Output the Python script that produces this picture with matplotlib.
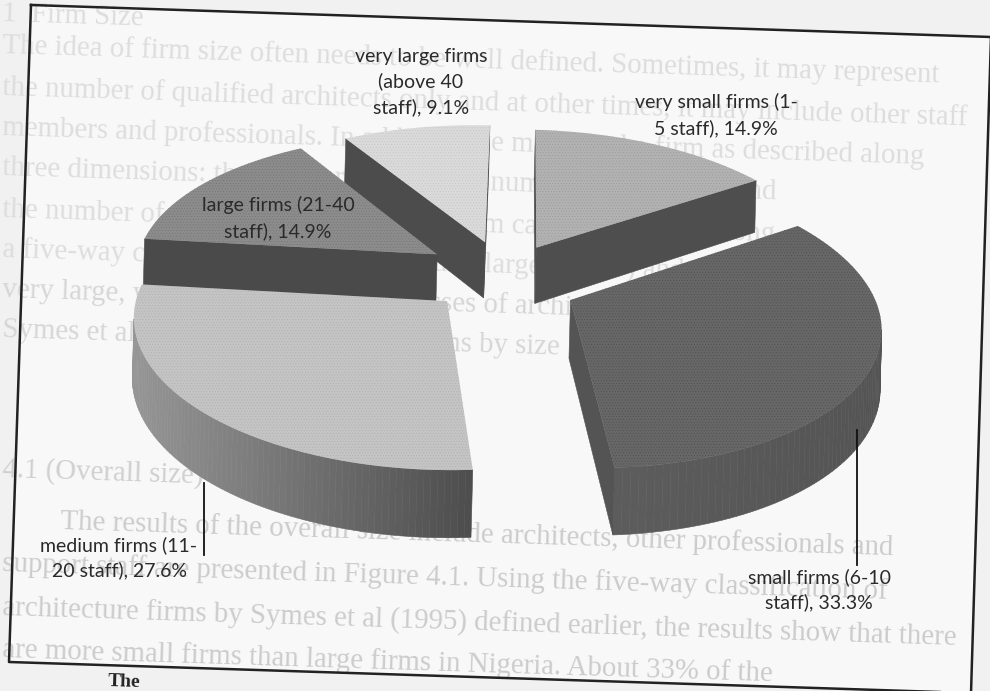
import numpy as np
import matplotlib
matplotlib.use("Agg")
import matplotlib.pyplot as plt

# chart data, clockwise from 12 o'clock
categories = ["very small firms (1-\n5 staff)", "small firms (6-10\nstaff)", "medium firms (11-\n20 staff)",
              "large firms (21-40\nstaff)", "very large firms\n(above 40\nstaff)"]
shares = [14.9, 33.3, 27.6, 14.9, 9.1]

# explosion of each slice on the pie plane
explode_x = [0.12, 0.23, -0.17, -0.215, -0.055]
explode_y = [0.30, -0.07, -0.10, 0.23, 0.33]

top_colors = ["#b2b2b2", "#676767", "#c4c4c4", "#8c8c8c", "#dadada"]
grain_colors = ["#999999", "#505050", "#b0b0b0", "#747474", "#c4c4c4"]
wall_light = ["#555555", "#5e5e5e", "#969696", "#555555", "#5c5c5c"]
wall_dark = ["#4e4e4e", "#545454", "#4e4e4e", "#4a4a4a", "#4c4c4c"]
draw_order = [4, 3, 0, 1, 2]

label_x = [716, 819, 119, 278, 421]
label_y = [115, 590, 558, 218, 82]

# show-through of the printed page behind the chart
page_lines = [
    (2, 14, "1  Firm Size", "#dddddd"),
    (2, 46, "The idea of firm size often needs to be well defined. Sometimes, it may represent", "#dddddd"),
    (2, 88, "the number of qualified architects only and at other times, it may include other staff", "#dddddd"),
    (2, 128, "members and professionals. In addition, we may see the firm as described along", "#dddddd"),
    (2, 168, "three dimensions: the number of staff, the number of architects and", "#dddddd"),
    (2, 210, "the number of projects. The size of the firm can be described along", "#dddddd"),
    (2, 250, "a five-way classification, small, medium, large (20-40) and", "#dddddd"),
    (2, 290, "very large, which is similar to the classes of architecture firms by", "#d6d6d6"),
    (2, 330, "Symes et al (1995) for architecture firms by size", "#d6d6d6"),
    (2, 470, "4.1 (Overall size) of firms", "#d0d0d0"),
    (60, 522, "The results of the overall size include architects, other professionals and", "#cccccc"),
    (2, 564, "support staff are presented in Figure 4.1. Using the five-way classification of", "#cccccc"),
    (2, 608, "architecture firms by Symes et al (1995) defined earlier, the results show that there", "#cccccc"),
    (2, 650, "are more small firms than large firms in Nigeria. About 33% of the", "#cccccc"),
]

# camera
U0, V0 = 500, 288
AX, BY, PERSP, DEPTH = 305, 143, 0.13, 58
TILT = np.radians(1.5)


def project(x, y, drop=0.0):
    w = 1 + PERSP * y
    u = AX * x / w
    v = -BY * y / w + drop / w
    return (U0 + u * np.cos(TILT) - v * np.sin(TILT),
            V0 + u * np.sin(TILT) + v * np.cos(TILT))


plt.rcParams["hatch.linewidth"] = 0.35

fig = plt.figure(figsize=(9.9, 6.91), dpi=100, facecolor="#f1f1f1")
ax = fig.add_axes([0, 0, 1, 1])
ax.set_xlim(0, 990)
ax.set_ylim(691, 0)
ax.axis("off")

# paper and frame
frame_x = [31, 991, 971, 9, 31]
frame_y = [5, 37, 693, 662, 5]
ax.fill(frame_x, frame_y, color="#f8f8f8", zorder=0)
ax.plot(frame_x, frame_y, color="#222222", lw=1.8, zorder=4)

for x, y, line, shade in page_lines:
    ax.text(x, y, line, family="Liberation Serif", fontsize=20.8, color=shade, rotation=-1.8,
            rotation_mode="anchor", va="center", ha="left", zorder=1)
ax.text(108, 682, "The", family="Liberation Serif", fontsize=14, weight="bold", color="#222222",
        rotation=-1.8, rotation_mode="anchor", va="center", zorder=5)

# slice angles from the shares
ends = 90 - 360 * np.cumsum(shares) / np.sum(shares)
starts = np.r_[90, ends[:-1]]

for i in draw_order:
    t = np.radians(np.linspace(starts[i], ends[i], 90))
    wx = np.r_[explode_x[i], explode_x[i] + np.cos(t), explode_x[i]]
    wy = np.r_[explode_y[i], explode_y[i] + np.sin(t), explode_y[i]]
    tx, ty = project(wx, wy)
    bx, by = project(wx, wy, DEPTH)
    span = max(tx.max() - tx.min(), 1)
    for j in range(len(tx) - 1):
        if tx[j + 1] >= tx[j]:
            continue
        radial = j == 0 or j == len(tx) - 2
        mix = 1.0 if radial else (tx[j] - tx.min()) / span
        c0 = np.array(matplotlib.colors.to_rgb(wall_light[i]))
        c1 = np.array(matplotlib.colors.to_rgb(wall_dark[i]))
        ax.fill([tx[j], tx[j + 1], bx[j + 1], bx[j]], [ty[j], ty[j + 1], by[j + 1], by[j]],
                color=c0 + (c1 - c0) * mix, lw=0.4, zorder=2)
    ax.fill(tx, ty, facecolor=top_colors[i], edgecolor=grain_colors[i], hatch="......", lw=0, zorder=2)

# leader lines
ax.plot([204, 204], [483, 555], color="#111111", lw=1.3, zorder=3)
ax.plot([857, 857], [430, 565], color="#111111", lw=1.3, zorder=3)

for i in range(len(categories)):
    ax.text(label_x[i], label_y[i], f"{categories[i]}, {shares[i]}%", family="Lato", fontsize=14,
            color="#2a2a2a", ha="center", va="center", linespacing=1.5, zorder=5)

fig.savefig("out.png", dpi=100, facecolor=fig.get_facecolor())
